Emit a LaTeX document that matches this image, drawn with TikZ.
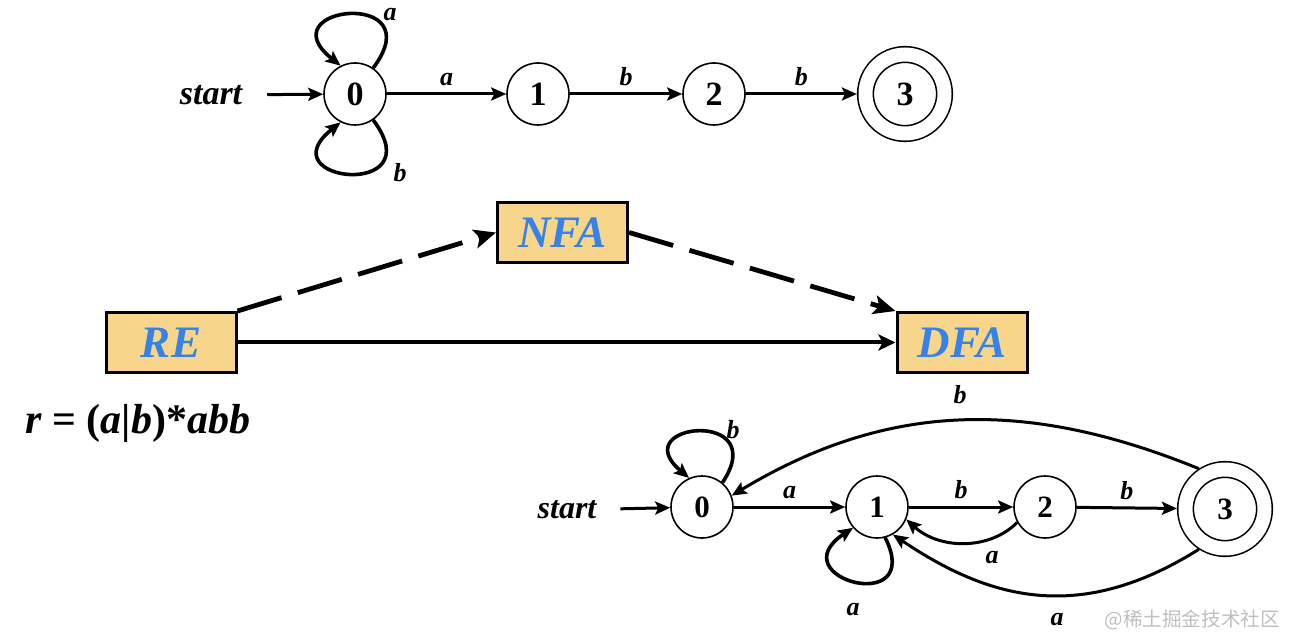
\documentclass[tikz,border=0pt]{standalone}
\usepackage{fontspec}
\setmainfont{Liberation Serif}
\newfontfamily\cjk{Noto Sans CJK SC}
\usetikzlibrary{positioning}
\usetikzlibrary{arrows.meta}
\usetikzlibrary{calc}
\definecolor{boxfill}{RGB}{247,214,140}
\definecolor{boxtext}{RGB}{55,130,230}

\begin{document}
\begin{tikzpicture}[x=0.5pt, y=0.5pt,
  >={Stealth[length=7.5pt,width=6.5pt,inset=1.5pt]},
  state/.style={circle, draw, line width=0.8pt, minimum size=31pt, inner sep=0pt, font=\fontsize{17}{17}\selectfont\bfseries},
  accept/.style={state, minimum size=39.5pt, double, double distance=7pt, outer sep=4.3pt},
  lbl/.style={font=\fontsize{13}{13}\selectfont\bfseries\itshape},
  startlbl/.style={font=\fontsize{17}{17}\selectfont\bfseries\itshape},
  edge/.style={->, line width=1.5pt},
  loopedge/.style={->, line width=1.8pt},
  box/.style={draw, line width=1.5pt, fill=boxfill, text=boxtext, minimum width=65pt, minimum height=30pt, inner sep=0pt, font=\fontsize{22.5}{22.5}\selectfont\bfseries\itshape},
  solidarrow/.style={-{Stealth[length=8.5pt,width=8pt,inset=2pt]}, line width=2pt},
  dashedarrow/.style={-{Stealth[length=11pt,width=9.5pt,inset=2.5pt]}, line width=2.4pt, dash pattern=on 23pt off 8.5pt}]

 \useasboundingbox (0,0) rectangle (1291,-636);

 % NFA for (a|b)*abb
 \node[startlbl] (tstart) at (211,-95) {start};
 \node[state] (t0) at (355,-94) {0};
 \node[state] (t1) at (538,-94) {1};
 \node[state] (t2) at (714,-94) {2};
 \node[accept] (t3) at (905,-94) {3};

 \draw[edge, shorten <=9pt] (tstart) -- (t0);
 \draw[edge] (t0) -- node[lbl, above] (l01) {a} (t1);
 \draw[edge] (t1) -- node[lbl, above] (l12) {b} (t2);
 \draw[edge] (t2) -- node[lbl, above] (l23) {b} (t3);

 \draw[loopedge] (t0.55) .. controls +(60,80) and +(-75,60) .. (t0.117);
 \draw[loopedge] (t0.-55) .. controls +(60,-80) and +(-75,-60) .. (t0.-117);
 \node[lbl] (l00a) at (390,-15) {a};
 \node[lbl] (l00b) at (400,-173) {b};

 % boxes
 \node[box] (re) at (171,-342.5) {RE};
 \node[box] (nfa) at (562.5,-232.5) {NFA};
 \node[box] (dfa) at (962,-342.5) {DFA};

 \draw[solidarrow] (re) -- (dfa);
 \draw[dashedarrow] (re.north east) -- (nfa.west);
 \draw[dashedarrow] (nfa.east) -- (dfa.north west);

 \node[font=\fontsize{21}{21}\selectfont\bfseries, anchor=base west, inner sep=0pt] (regex) at (25,-433)
   {\textit{r} = (\textit{a}|\textit{b})*\textit{abb}};

 % DFA
 \node[startlbl, font=\fontsize{16}{16}\selectfont\bfseries\itshape] (bstart) at (567,-510) {start};
 \node[state, font=\fontsize{15.5}{15.5}\selectfont\bfseries] (b0) at (702,-507) {0};
 \node[state, font=\fontsize{15.5}{15.5}\selectfont\bfseries] (b1) at (877,-507) {1};
 \node[state, font=\fontsize{15.5}{15.5}\selectfont\bfseries] (b2) at (1045,-507) {2};
 \node[accept, font=\fontsize{15.5}{15.5}\selectfont\bfseries] (b3) at (1225,-509) {3};

 \draw[edge, shorten <=8.5pt] (bstart) -- (b0);
 \draw[edge] (b0) -- node[lbl, above] (m01) {a} (b1);
 \draw[edge] (b1) -- node[lbl, above] (m12) {b} (b2);
 \draw[edge] (b2) -- node[lbl, above] (m23) {b} (b3);

 \draw[loopedge] (b0.50) .. controls +(50,75) and +(-65,55) .. (b0.114);
 \node[lbl] (m00) at (733,-430) {b};
 \draw[loopedge] (b1.-75) .. controls +(40,-80) and +(-75,-50) .. (b1.-139);
 \node[lbl] (m11) at (853,-610) {a};

 \draw[edge] (b3.123) .. controls (1030,-400) and (890,-400) .. (b0.21);
 \node[lbl] (m30) at (960,-395) {b};
 \draw[edge] (b2.-151) .. controls (990,-550) and (940,-550) .. (b1.-23);
 \node[lbl] (m21) at (992,-558) {a};
 \draw[edge] (b3.-123) .. controls (1080,-624) and (990,-600) .. (b1.-60);
 \node[lbl] (m31) at (1057,-620) {a};

 \node[text=gray!50, font=\cjk\fontsize{9.8}{10}\selectfont, anchor=east] (wm) at (1287,-620) {@稀土掘金技术社区};

\end{tikzpicture}
\end{document}
